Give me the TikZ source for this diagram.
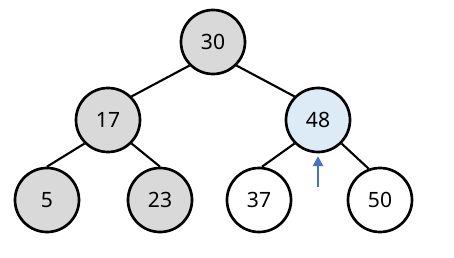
\documentclass[tikz,border=0pt]{standalone}
\usepackage{fontspec}
\setmainfont{Noto Sans}
\usepackage{xcolor}
\usetikzlibrary{arrows.meta,positioning}
\definecolor{heapgray}{HTML}{D9D9D9}
\definecolor{heapblue}{HTML}{DDEBF7}
\definecolor{ptrblue}{HTML}{4472C4}
\tikzset{
  keynode/.style={circle, draw, line width=1.9pt, minimum size=1.6cm, inner sep=0pt, font=\fontsize{15}{18}\selectfont},
  donenode/.style={keynode, fill=heapgray},
  curnode/.style={keynode, fill=heapblue},
  treeedge/.style={line width=1.5pt},
  ptr/.style={-{Triangle[length=7pt, width=7pt]}, line width=1.9pt, ptrblue, shorten >=2pt},
}
\begin{document}
\begin{tikzpicture}[x=0.025cm, y=-0.025cm]
\useasboundingbox (0,0) rectangle (454,257);
% root level
\node[donenode] (n30) at (213,42) {30};
% second level
\node[donenode] (n17) at (108,120) {17};
\node[curnode] (n48) at (318,120) {48};
% leaves
\node[donenode] (n5) at (47,200) {5};
\node[donenode] (n23) at (160,200) {23};
\node[keynode] (n37) at (259,200) {37};
\node[keynode] (n50) at (380,200) {50};
% edges
\draw[treeedge] (n30.south west) -- (n17.north east);
\draw[treeedge] (n30.south east) -- (n48.north west);
\draw[treeedge] (n17.south west) -- (n5.north);
\draw[treeedge] (n17.south east) -- (n23.north);
\draw[treeedge] (n48.south west) -- (n37.85);
\draw[treeedge] (n48.south east) -- (n50.110);
% current position marker
\coordinate (mark) at (318,187);
\draw[ptr] (mark) -- (n48.south);
\end{tikzpicture}
\end{document}
